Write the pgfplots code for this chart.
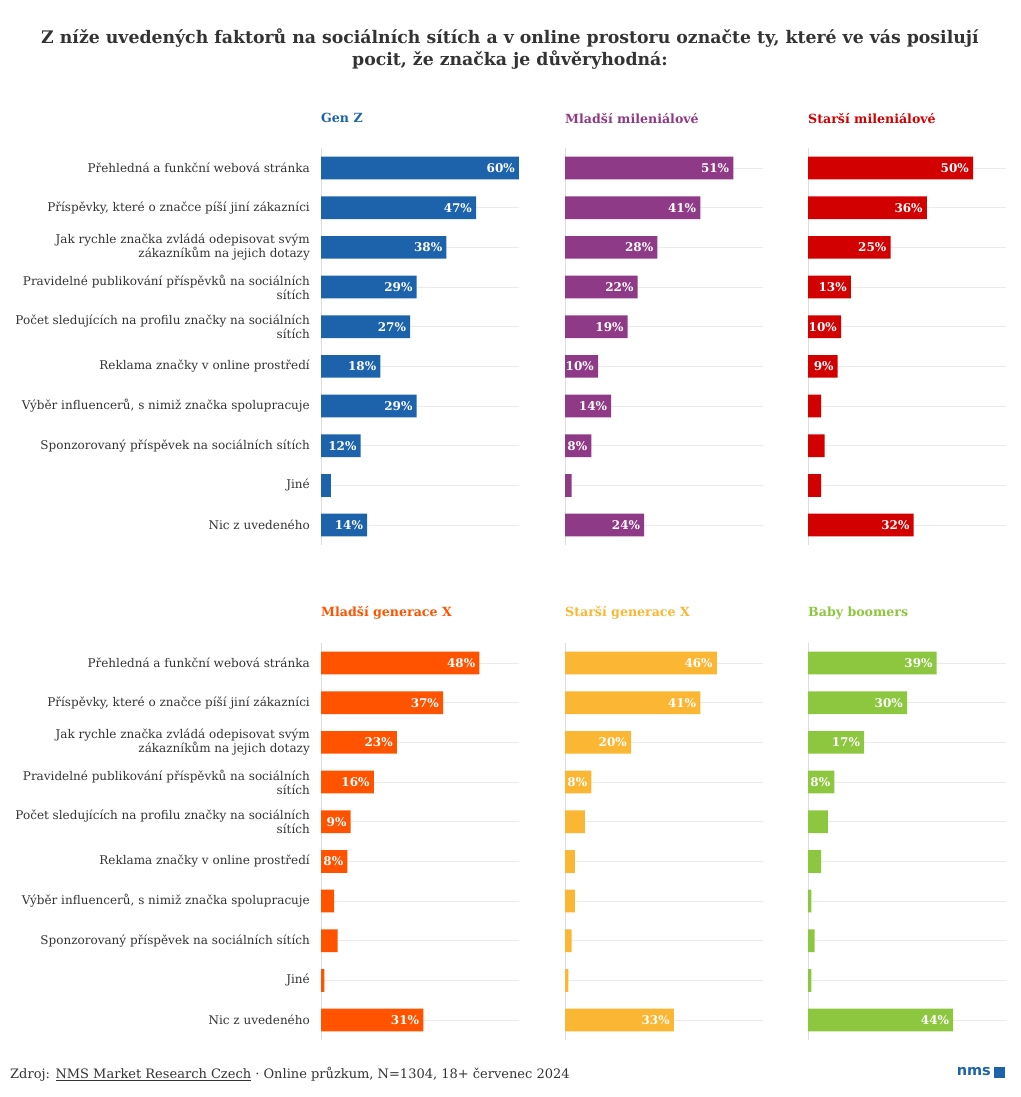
\documentclass[border=0pt]{standalone}
\usepackage{pgfplots}
\pgfplotsset{compat=1.18}
\usepackage{fontspec}
\setmainfont{DejaVu Serif}
\setsansfont{DejaVu Sans}
\definecolor{genz}{HTML}{1C63AB}
\definecolor{mmil}{HTML}{8E3A86}
\definecolor{smil}{HTML}{D20000}
\definecolor{mx}{HTML}{FF5300}
\definecolor{sx}{HTML}{FBB634}
\definecolor{bb}{HTML}{8DC63F}
\definecolor{gridc}{HTML}{EBEBEB}
\definecolor{axc}{HTML}{DDDDDD}
\definecolor{txt}{HTML}{333333}
\pgfplotsset{
 panel/.style={
   scale only axis, width=198pt, height=396.7pt,
   anchor=north west,
   xmin=0, xmax=60, ymin=-0.5, ymax=9.5, y dir=reverse,
   axis x line=none, axis y line*=left,
   y axis line style={-, draw=axc, line width=0.8pt},
   ytick={0,...,9}, yticklabels={},
   major tick length=0pt,
   ymajorgrids, grid style={draw=gridc, line width=0.8pt},
   clip=false,
   title style={at={(0,1)}, anchor=west, inner xsep=0pt, yshift=24pt, font=\fontsize{12.6}{14}\selectfont\bfseries},
 },
 bars/.style={xbar, bar width=22.7pt, bar shift=0pt, draw=none, fill=#1,
   point meta=explicit symbolic, nodes near coords,
   every node near coord/.append style={anchor=east, text=white, font=\fontsize{12}{13}\selectfont\bfseries, inner xsep=4pt}},
 cats/.style={
   yticklabels={Přehledná a funkční webová stránka,
     {Příspěvky, které o značce píší jiní zákazníci},
     {Jak rychle značka zvládá odepisovat svým\\zákazníkům na jejich dotazy},
     {Pravidelné publikování příspěvků na sociálních\\sítích},
     {Počet sledujících na profilu značky na sociálních\\sítích},
     Reklama značky v online prostředí,
     {Výběr influencerů, s nimiž značka spolupracuje},
     Sponzorovaný příspěvek na sociálních sítích,
     Jiné,
     Nic z uvedeného},
   yticklabel style={anchor=east, align=right, inner sep=0pt, xshift=-11pt,
     font=\fontsize{12}{14}\selectfont, text=txt}
 }
}
\begin{document}
\begin{tikzpicture}
\path[use as bounding box] (0,0) rectangle (1020pt,-1097pt);
\node[align=center, text=txt, font=\fontsize{17.3}{22}\selectfont\bfseries] at (510pt,-49pt)
 {Z níže uvedených faktorů na sociálních sítích a v online prostoru označte ty, které ve vás posilují\\pocit, že značka je důvěryhodná:};

% ---- top row
\begin{axis}[panel, cats, at={(321pt,-148.2pt)}, title={Gen Z}, title style={text=genz}]
\addplot[bars=genz] coordinates {(60,0)[60\%] (47,1)[47\%] (38,2)[38\%] (29,3)[29\%] (27,4)[27\%] (18,5)[18\%] (29,6)[29\%] (12,7)[12\%] (3,8)[] (14,9)[14\%]};
\end{axis}
\begin{axis}[panel, at={(565pt,-148.2pt)}, title={Mladší mileniálové}, title style={text=mmil}]
\addplot[bars=mmil] coordinates {(51,0)[51\%] (41,1)[41\%] (28,2)[28\%] (22,3)[22\%] (19,4)[19\%] (10,5)[10\%] (14,6)[14\%] (8,7)[8\%] (2,8)[] (24,9)[24\%]};
\end{axis}
\begin{axis}[panel, at={(808pt,-148.2pt)}, title={Starší mileniálové}, title style={text=smil}]
\addplot[bars=smil] coordinates {(50,0)[50\%] (36,1)[36\%] (25,2)[25\%] (13,3)[13\%] (10,4)[10\%] (9,5)[9\%] (4,6)[] (5,7)[] (4,8)[] (32,9)[32\%]};
\end{axis}

% ---- bottom row
\begin{axis}[panel, cats, at={(321pt,-643.2pt)}, title={Mladší generace X}, title style={text=mx}]
\addplot[bars=mx] coordinates {(48,0)[48\%] (37,1)[37\%] (23,2)[23\%] (16,3)[16\%] (9,4)[9\%] (8,5)[8\%] (4,6)[] (5,7)[] (1,8)[] (31,9)[31\%]};
\end{axis}
\begin{axis}[panel, at={(565pt,-643.2pt)}, title={Starší generace X}, title style={text=sx}]
\addplot[bars=sx] coordinates {(46,0)[46\%] (41,1)[41\%] (20,2)[20\%] (8,3)[8\%] (6,4)[] (3,5)[] (3,6)[] (2,7)[] (1,8)[] (33,9)[33\%]};
\end{axis}
\begin{axis}[panel, at={(808pt,-643.2pt)}, title={Baby boomers}, title style={text=bb}]
\addplot[bars=bb] coordinates {(39,0)[39\%] (30,1)[30\%] (17,2)[17\%] (8,3)[8\%] (6,4)[] (4,5)[] (1,6)[] (2,7)[] (1,8)[] (44,9)[44\%]};
\end{axis}

\node[anchor=west, inner xsep=0pt, text=txt, font=\fontsize{13}{15}\selectfont] at (10pt,-1074pt)
 {Zdroj: \underline{NMS Market Research Czech} · Online průzkum, N=1304, 18+ červenec 2024};
\node[anchor=east, text=genz, inner sep=0pt, font=\sffamily\bfseries\fontsize{14.5}{14}\selectfont] at (991pt,-1072pt) {nms};
\fill[genz] (994pt,-1066.5pt) rectangle (1005pt,-1077.5pt);
\end{tikzpicture}
\end{document}
